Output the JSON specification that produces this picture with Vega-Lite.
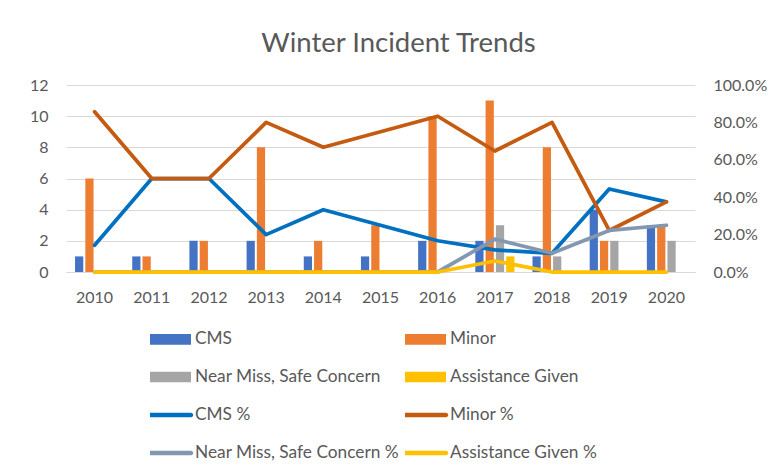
{
  "$schema": "https://vega.github.io/schema/vega-lite/v6.json",
  "autosize": {"type": "none"},
  "width": 629,
  "height": 187,
  "padding": {"left": 66, "top": 85, "right": 85, "bottom": 198},
  "background": "white",
  "config": {
    "view": {"stroke": null},
    "font": "Lato",
    "axis": {"labelFont": "Lato", "labelFontSize": 16, "labelColor": "#595959", "ticks": false, "domain": false, "title": null, "gridColor": "#D9D9D9", "gridWidth": 1}
  },
  "title": {"text": "Winter Incident Trends", "font": "Lato", "fontSize": 27.5, "fontWeight": "normal", "color": "#595959", "anchor": "middle", "dx": 18, "offset": -2, "baseline": "alphabetic"},
  "datasets": {
    "counts": [
      {"year": "2010", "series": "CMS", "value": 1}, {"year": "2010", "series": "Minor", "value": 6}, {"year": "2010", "series": "Near Miss, Safe Concern", "value": 0}, {"year": "2010", "series": "Assistance Given", "value": 0},
      {"year": "2011", "series": "CMS", "value": 1}, {"year": "2011", "series": "Minor", "value": 1}, {"year": "2011", "series": "Near Miss, Safe Concern", "value": 0}, {"year": "2011", "series": "Assistance Given", "value": 0},
      {"year": "2012", "series": "CMS", "value": 2}, {"year": "2012", "series": "Minor", "value": 2}, {"year": "2012", "series": "Near Miss, Safe Concern", "value": 0}, {"year": "2012", "series": "Assistance Given", "value": 0},
      {"year": "2013", "series": "CMS", "value": 2}, {"year": "2013", "series": "Minor", "value": 8}, {"year": "2013", "series": "Near Miss, Safe Concern", "value": 0}, {"year": "2013", "series": "Assistance Given", "value": 0},
      {"year": "2014", "series": "CMS", "value": 1}, {"year": "2014", "series": "Minor", "value": 2}, {"year": "2014", "series": "Near Miss, Safe Concern", "value": 0}, {"year": "2014", "series": "Assistance Given", "value": 0},
      {"year": "2015", "series": "CMS", "value": 1}, {"year": "2015", "series": "Minor", "value": 3}, {"year": "2015", "series": "Near Miss, Safe Concern", "value": 0}, {"year": "2015", "series": "Assistance Given", "value": 0},
      {"year": "2016", "series": "CMS", "value": 2}, {"year": "2016", "series": "Minor", "value": 10}, {"year": "2016", "series": "Near Miss, Safe Concern", "value": 0}, {"year": "2016", "series": "Assistance Given", "value": 0},
      {"year": "2017", "series": "CMS", "value": 2}, {"year": "2017", "series": "Minor", "value": 11}, {"year": "2017", "series": "Near Miss, Safe Concern", "value": 3}, {"year": "2017", "series": "Assistance Given", "value": 1},
      {"year": "2018", "series": "CMS", "value": 1}, {"year": "2018", "series": "Minor", "value": 8}, {"year": "2018", "series": "Near Miss, Safe Concern", "value": 1}, {"year": "2018", "series": "Assistance Given", "value": 0},
      {"year": "2019", "series": "CMS", "value": 4}, {"year": "2019", "series": "Minor", "value": 2}, {"year": "2019", "series": "Near Miss, Safe Concern", "value": 2}, {"year": "2019", "series": "Assistance Given", "value": 0},
      {"year": "2020", "series": "CMS", "value": 3}, {"year": "2020", "series": "Minor", "value": 3}, {"year": "2020", "series": "Near Miss, Safe Concern", "value": 2}, {"year": "2020", "series": "Assistance Given", "value": 0}
    ],
    "shares": [
      {"year": "2010", "series": "CMS %", "value": 0.143}, {"year": "2011", "series": "CMS %", "value": 0.5}, {"year": "2012", "series": "CMS %", "value": 0.5}, {"year": "2013", "series": "CMS %", "value": 0.2}, {"year": "2014", "series": "CMS %", "value": 0.333}, {"year": "2015", "series": "CMS %", "value": 0.25}, {"year": "2016", "series": "CMS %", "value": 0.167}, {"year": "2017", "series": "CMS %", "value": 0.118}, {"year": "2018", "series": "CMS %", "value": 0.1}, {"year": "2019", "series": "CMS %", "value": 0.444}, {"year": "2020", "series": "CMS %", "value": 0.375},
      {"year": "2010", "series": "Minor %", "value": 0.857}, {"year": "2011", "series": "Minor %", "value": 0.5}, {"year": "2012", "series": "Minor %", "value": 0.5}, {"year": "2013", "series": "Minor %", "value": 0.8}, {"year": "2014", "series": "Minor %", "value": 0.667}, {"year": "2015", "series": "Minor %", "value": 0.75}, {"year": "2016", "series": "Minor %", "value": 0.833}, {"year": "2017", "series": "Minor %", "value": 0.647}, {"year": "2018", "series": "Minor %", "value": 0.8}, {"year": "2019", "series": "Minor %", "value": 0.222}, {"year": "2020", "series": "Minor %", "value": 0.375},
      {"year": "2010", "series": "Near Miss, Safe Concern %", "value": 0}, {"year": "2011", "series": "Near Miss, Safe Concern %", "value": 0}, {"year": "2012", "series": "Near Miss, Safe Concern %", "value": 0}, {"year": "2013", "series": "Near Miss, Safe Concern %", "value": 0}, {"year": "2014", "series": "Near Miss, Safe Concern %", "value": 0}, {"year": "2015", "series": "Near Miss, Safe Concern %", "value": 0}, {"year": "2016", "series": "Near Miss, Safe Concern %", "value": 0}, {"year": "2017", "series": "Near Miss, Safe Concern %", "value": 0.176}, {"year": "2018", "series": "Near Miss, Safe Concern %", "value": 0.1}, {"year": "2019", "series": "Near Miss, Safe Concern %", "value": 0.222}, {"year": "2020", "series": "Near Miss, Safe Concern %", "value": 0.25},
      {"year": "2010", "series": "Assistance Given %", "value": 0}, {"year": "2011", "series": "Assistance Given %", "value": 0}, {"year": "2012", "series": "Assistance Given %", "value": 0}, {"year": "2013", "series": "Assistance Given %", "value": 0}, {"year": "2014", "series": "Assistance Given %", "value": 0}, {"year": "2015", "series": "Assistance Given %", "value": 0}, {"year": "2016", "series": "Assistance Given %", "value": 0}, {"year": "2017", "series": "Assistance Given %", "value": 0.059}, {"year": "2018", "series": "Assistance Given %", "value": 0}, {"year": "2019", "series": "Assistance Given %", "value": 0}, {"year": "2020", "series": "Assistance Given %", "value": 0}
    ]
  },
  "encoding": {
    "x": {"field": "year", "type": "nominal", "scale": {"paddingInner": 0.28, "paddingOuter": 0.14}, "axis": {"labelAngle": 0, "labelPadding": 17, "domain": true, "domainColor": "#D9D9D9", "grid": false}},
    "color": {
      "field": "series", "type": "nominal",
      "scale": {
        "domain": ["CMS", "Minor", "Near Miss, Safe Concern", "Assistance Given", "CMS %", "Minor %", "Near Miss, Safe Concern %", "Assistance Given %"],
        "range": ["#4472C4", "#ED7D31", "#A5A5A5", "#FFC000", "#0070C0", "#C55A11", "#8497B0", "#FFC000"]
      },
      "legend": {
        "title": null, "orient": "none", "legendX": 84, "legendY": 246, "columns": 2, "direction": "horizontal",
        "columnPadding": 5, "rowPadding": 20, "clipHeight": 16, "padding": 0,
        "symbolSize": 1681, "symbolStrokeWidth": 0, "symbolOffset": 0, "labelOffset": 4,
        "labelFont": "Lato", "labelFontSize": 17.3, "labelColor": "#595959", "labelLimit": 400,
        "encode": {
          "symbols": {"update": {
            "shape": {"signal": "indexof(datum.value, '%') >= 0 ? 'M-1,-0.11H1A0.11,0.11 0 0 1 1,0.11H-1A0.11,0.11 0 0 1 -1,-0.11Z' : 'M-1,-0.26H1V0.26H-1Z'"},
            "fill": {"scale": "color", "field": "value"},
            "fillOpacity": {"value": 1},
            "strokeWidth": {"value": 0},
            "opacity": {"value": 1}
          }}
        }
      }
    }
  },
  "layer": [
    {
      "data": {"name": "counts"},
      "mark": {"type": "bar"},
      "encoding": {
        "xOffset": {"field": "series", "type": "nominal", "scale": {"domain": ["CMS", "Minor", "Near Miss, Safe Concern", "Assistance Given"], "paddingInner": 0.2, "paddingOuter": 0.1}},
        "y": {"field": "value", "type": "quantitative", "scale": {"domain": [0, 12], "nice": false}, "axis": {"values": [0, 2, 4, 6, 8, 10, 12], "labelPadding": 18, "grid": true, "orient": "left"}}
      }
    },
    {
      "data": {"name": "shares"},
      "encoding": {
        "y": {"field": "value", "type": "quantitative", "scale": {"domain": [0, 1], "nice": false}, "axis": {"values": [0, 0.2, 0.4, 0.6, 0.8, 1], "format": ".1%", "labelPadding": 18, "grid": false, "orient": "right"}}
      },
      "layer": [
        {"transform": [{"filter": "datum.series == 'CMS %'"}], "mark": {"type": "line", "strokeWidth": 3.75, "strokeJoin": "round", "strokeCap": "round"}},
        {"transform": [{"filter": "datum.series == 'Minor %'"}], "mark": {"type": "line", "strokeWidth": 3.75, "strokeJoin": "round", "strokeCap": "round"}},
        {"transform": [{"filter": "datum.series == 'Near Miss, Safe Concern %'"}], "mark": {"type": "line", "strokeWidth": 3.75, "strokeJoin": "round", "strokeCap": "round"}},
        {"transform": [{"filter": "datum.series == 'Assistance Given %'"}], "mark": {"type": "line", "strokeWidth": 3.75, "strokeJoin": "round", "strokeCap": "round"}}
      ]
    }
  ],
  "resolve": {"scale": {"y": "independent"}}
}
